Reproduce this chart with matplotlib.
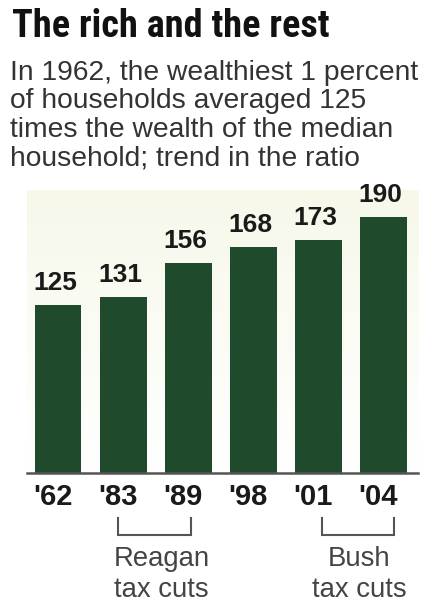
import numpy as np
import matplotlib
matplotlib.use("Agg")
import matplotlib.pyplot as plt
from matplotlib import font_manager
from matplotlib.colors import LinearSegmentedColormap
from matplotlib.transforms import ScaledTranslation

# Ratio of average wealth of the top 1% to the median household
years = ["'62", "'83", "'89", "'98", "'01", "'04"]
ratios = [125, 131, 156, 168, 173, 190]

# Tax-cut periods marked under the axis: (first index, last index, label)
periods = [(1, 2, "Reagan\ntax cuts"), (4, 5, "Bush\ntax cuts")]

W, H = 423, 606
fig = plt.figure(figsize=(W / 100, H / 100), dpi=100)
fig.patch.set_facecolor("white")


def fx(px):
    return px / W


def fy(py):
    return 1 - py / H


# pick a condensed bold face for the headline if one is installed
def condensed_font():
    names = {f.name for f in font_manager.fontManager.ttflist}
    for cand in ["Liberation Sans Narrow", "Roboto Condensed", "Open Sans Condensed",
                 "Noto Sans Condensed", "DejaVu Sans Condensed"]:
        if cand in names:
            return dict(family=cand, fontstretch="normal")
    for f in font_manager.fontManager.ttflist:
        if f.name == "DejaVu Sans" and f.stretch == "condensed":
            return dict(family="DejaVu Sans", fontstretch="condensed")
    return dict(family="Roboto", fontstretch="normal")


title_font = condensed_font()
fig.text(fx(12), fy(37), "The rich and the rest", weight="bold", fontsize=27.5,
         color="#111111", va="baseline", ha="left", **title_font)

subtitle = ["In 1962, the wealthiest 1 percent",
            "of households averaged 125",
            "times the wealth of the median",
            "household; trend in the ratio"]
for k, line in enumerate(subtitle):
    fig.text(fx(10), fy(80 + 28.4 * k), line, family="Liberation Sans",
             fontsize=20.3, color="#333333", va="baseline", ha="left")

# Bar chart
scale = 1.347  # pixels per unit
ax = fig.add_axes([fx(27), fy(473), fx(418) - fx(27), (473 - 190) / H])
x = np.arange(len(years))
ymax = 283 / scale
ax.set_xlim(-0.476, 5.53)
ax.set_ylim(0, ymax)

# faint cream wash behind the bars
grad = np.linspace(1, 0, 256).reshape(-1, 1)
cmap = LinearSegmentedColormap.from_list("wash", ["#ffffff", "#f7f8ea"])
ax.imshow(grad, aspect="auto", cmap=cmap, extent=[-0.476, 5.53, 0, ymax],
          origin="upper", zorder=0)

ax.bar(x, ratios, width=0.72, color="#1f4a2b", zorder=2)
for xi, v in zip(x, ratios):
    ax.annotate(str(v), (xi, v), xytext=(-2, 7), textcoords="offset points",
                ha="center", va="bottom", family="Liberation Sans", weight="bold",
                fontsize=19, color="#1a1a1a")

for s in ["top", "left", "right"]:
    ax.spines[s].set_visible(False)
ax.spines["bottom"].set_color("#555555")
ax.spines["bottom"].set_linewidth(1.8)
ax.spines["bottom"].set_zorder(3)
ax.set_yticks([])
ax.set_xticks(x)
ax.set_xticklabels(years, family="Liberation Sans", weight="bold", fontsize=21,
                   color="#1a1a1a")
ax.tick_params(axis="x", length=0, pad=7)
nudge = ScaledTranslation(-5 / 100, 0, fig.dpi_scale_trans)
for lab in ax.get_xticklabels():
    lab.set_transform(lab.get_transform() + nudge)

# Brackets and labels for the tax-cut periods
bracket_pad = {1: (-0.08, 0.05), 4: (0.06, 0.16)}
text_shift = {1: -0.01, 4: 0.03}
for i0, i1, label in periods:
    dl, dr = bracket_pad[i0]
    xl, xr = i0 + dl, i1 + dr
    ytop, ybot = -(518 - 473) / scale, -(535 - 473) / scale
    ax.plot([xl, xl, xr, xr], [ytop, ybot, ybot, ytop], color="#555555", lw=1.5,
            clip_on=False, solid_joinstyle="miter")
    xc = (i0 + i1) / 2 + 0.1 + text_shift[i0]
    l1, l2 = label.split("\n")
    ax.text(xc, -(566 - 473) / scale, l1, ha="center", va="baseline",
            family="Liberation Sans", fontsize=19.8, color="#444444", clip_on=False)
    ax.text(xc, -(597 - 473) / scale, l2, ha="center", va="baseline",
            family="Liberation Sans", fontsize=19.8, color="#444444", clip_on=False)

fig.savefig("out.png", dpi=100, facecolor="white")
